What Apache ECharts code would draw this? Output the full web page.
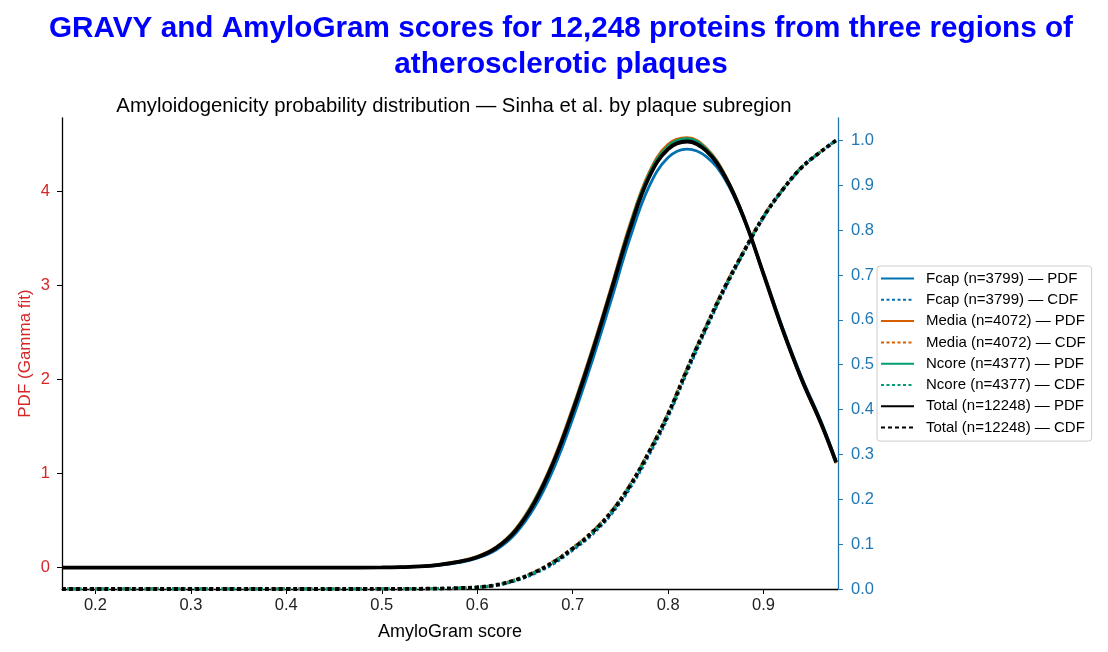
<!DOCTYPE html>
<html>
<head>
<meta charset="utf-8">
<script src="https://cdn.jsdelivr.net/npm/echarts@6/dist/echarts.min.js"></script>
<style>
  html, body { margin: 0; padding: 0; background: #fff; }
  #main { width: 1108px; height: 652px; }
</style>
</head>
<body>
<div id="main"></div>
<script>
// AmyloGram score grid
var xs = [0.165, 0.2, 0.25, 0.3, 0.35, 0.4, 0.45, 0.5, 0.52, 0.54, 0.56, 0.58, 0.6, 0.62, 0.64, 0.66,
          0.68, 0.7, 0.72, 0.74, 0.76, 0.78, 0.8, 0.82, 0.84, 0.86, 0.88, 0.9, 0.92, 0.94, 0.96, 0.976];

var fcapPdf  = [0,0,0,0,0,0,0,0.002,0.004,0.01,0.025,0.052,0.1,0.19,0.36,0.64,1.05,1.58,2.18,2.83,3.5,4.05,4.36,4.45,4.37,4.12,3.69,3.13,2.55,2.02,1.56,1.13];
var fcapCdf  = [0,0,0,0,0,0,0,0.0001,0.0002,0.0004,0.0009,0.0018,0.0035,0.008,0.018,0.034,0.056,0.086,0.12,0.165,0.224,0.298,0.383,0.483,0.579,0.67,0.752,0.828,0.889,0.939,0.975,1.0];
var mediaPdf = [0,0,0,0,0,0,0,0.002,0.005,0.013,0.032,0.065,0.12,0.22,0.41,0.72,1.15,1.7,2.31,2.97,3.65,4.2,4.5,4.57,4.46,4.17,3.71,3.11,2.52,1.99,1.53,1.11];
var mediaCdf = [0,0,0,0,0,0,0,0.0001,0.0002,0.0005,0.001,0.002,0.004,0.009,0.021,0.038,0.062,0.092,0.128,0.173,0.233,0.308,0.393,0.493,0.588,0.678,0.757,0.832,0.891,0.941,0.975,1.0];
var ncorePdf = [0,0,0,0,0,0,0,0.002,0.005,0.012,0.031,0.062,0.115,0.215,0.4,0.71,1.13,1.68,2.29,2.95,3.63,4.18,4.48,4.56,4.45,4.16,3.71,3.12,2.53,2.0,1.54,1.12];
var ncoreCdf = [0,0,0,0,0,0,0,0.0001,0.0002,0.0005,0.001,0.002,0.004,0.009,0.02,0.037,0.06,0.09,0.125,0.17,0.23,0.305,0.39,0.49,0.585,0.675,0.755,0.83,0.89,0.94,0.975,1.0];
var totalPdf = [0,0,0,0,0,0,0,0.002,0.005,0.012,0.03,0.06,0.11,0.21,0.39,0.69,1.12,1.66,2.27,2.93,3.6,4.15,4.45,4.53,4.43,4.15,3.7,3.12,2.53,2.0,1.54,1.12];
var totalCdf = [0,0,0,0,0,0,0,0.0001,0.0002,0.0005,0.001,0.002,0.004,0.009,0.02,0.037,0.06,0.09,0.125,0.17,0.23,0.305,0.39,0.49,0.585,0.675,0.755,0.83,0.89,0.94,0.975,1.0];

var xTicks = [0.2, 0.3, 0.4, 0.5, 0.6, 0.7, 0.8, 0.9];
var pdfTicks = [0, 1, 2, 3, 4];
var cdfTicks = [0, 0.1, 0.2, 0.3, 0.4, 0.5, 0.6, 0.7, 0.8, 0.9, 1.0];

var groups = [
    {name: 'Fcap (n=3799)', pdf: fcapPdf, cdf: fcapCdf, color: '#0072B2', w: 2.8},
    {name: 'Media (n=4072)', pdf: mediaPdf, cdf: mediaCdf, color: '#D55E00', w: 2.8},
    {name: 'Ncore (n=4377)', pdf: ncorePdf, cdf: ncoreCdf, color: '#009E73', w: 2.8},
    {name: 'Total (n=12248)', pdf: totalPdf, cdf: totalCdf, color: '#000000', w: 3.8}
];

function pairs(ys) {
    var out = [];
    for (var i = 0; i < xs.length; i++) out.push([xs[i], ys[i]]);
    return out;
}

var series = [];
groups.forEach(function (g) {
    series.push({
        name: g.name + ' \u2014 PDF', type: 'line', yAxisIndex: 0, smooth: 0.4,
        symbol: 'none', color: g.color,
        lineStyle: {width: g.w, color: g.color},
        data: pairs(g.pdf)
    });
    series.push({
        name: g.name + ' \u2014 CDF', type: 'line', yAxisIndex: 1, smooth: 0.4,
        symbol: 'none', color: g.color,
        lineStyle: {width: g.w, color: g.color, type: g.w > 3 ? [4, 3] : [3, 2.5]},
        data: pairs(g.cdf)
    });
});

var font = '"Liberation Sans", Arial, sans-serif';
var red = '#d62728';
var blue = '#1f77b4';

var myChart = echarts.init(document.getElementById('main'));
var option = {
    animation: false,
    textStyle: {fontFamily: font},
    title: [
        {
            text: 'GRAVY and AmyloGram scores for 12,248 proteins from three regions of\natherosclerotic plaques',
            left: 556, top: 6, textAlign: 'center',
            textStyle: {fontFamily: font, fontSize: 29.7, fontWeight: 'bold', color: '#0000ff', lineHeight: 36}
        },
        {
            text: 'Amyloidogenicity probability distribution \u2014 Sinha et al. by plaque subregion',
            left: 449, top: 91, textAlign: 'center',
            textStyle: {fontFamily: font, fontSize: 20.3, fontWeight: 'normal', color: '#000'}
        }
    ],
    legend: {
        orient: 'vertical',
        left: 877, top: 266,
        padding: [5, 6, 6, 3],
        itemWidth: 33, itemHeight: 14, itemGap: 6.3,
        borderColor: '#cccccc', borderWidth: 1, borderRadius: 3,
        backgroundColor: '#fff',
        itemStyle: {opacity: 0},
        textStyle: {fontFamily: font, fontSize: 15, color: '#000', padding: [0, 0, 0, 7]},
        data: series.map(function (s) { return s.name; })
    },
    grid: {left: 62, right: 270, top: 118, bottom: 63, containLabel: false},
    xAxis: {
        type: 'value', min: 0.165, max: 0.978,
        name: 'AmyloGram score', nameLocation: 'middle', nameGap: 34,
        nameTextStyle: {fontSize: 18, color: '#000'},
        axisLine: {show: true, onZero: false, lineStyle: {color: '#000', width: 1.3}},
        axisTick: {show: true, length: 5, lineStyle: {color: '#000'}, customValues: xTicks},
        axisLabel: {fontSize: 16.5, color: '#222', margin: 8, customValues: xTicks,
            formatter: function (v) { return v.toFixed(1); }},
        splitLine: {show: false}
    },
    yAxis: [
        {
            type: 'value', position: 'left', min: -0.2275, max: 4.78,
            name: 'PDF (Gamma fit)', nameLocation: 'middle', nameGap: 28, nameRotate: 90,
            nameMoveOverlap: false,
            nameTextStyle: {fontSize: 17, color: red},
            axisLine: {show: true, onZero: false, lineStyle: {color: '#000', width: 1.3}},
            axisTick: {show: true, length: 5, lineStyle: {color: '#000'}, customValues: pdfTicks},
            axisLabel: {fontSize: 16.5, color: red, margin: 12, customValues: pdfTicks},
            splitLine: {show: false}
        },
        {
            type: 'value', position: 'right', min: 0, max: 1.05,
            axisLine: {show: true, onZero: false, lineStyle: {color: blue, width: 1.3}},
            axisTick: {show: true, length: 5, lineStyle: {color: blue}, customValues: cdfTicks},
            axisLabel: {fontSize: 16.5, color: blue, margin: 13, customValues: cdfTicks,
                formatter: function (v) { return v.toFixed(1); }},
            splitLine: {show: false}
        }
    ],
    series: series
};
myChart.setOption(option);
</script>
</body>
</html>
